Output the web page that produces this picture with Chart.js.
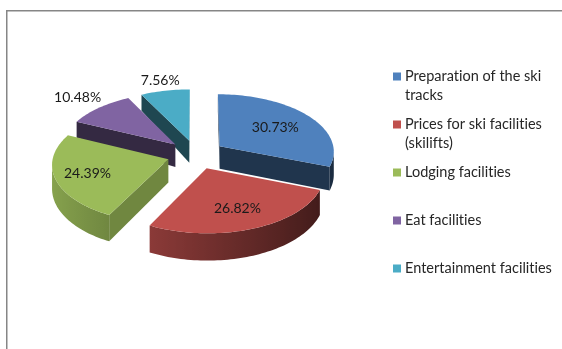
<!DOCTYPE html>
<html>
<head>
<meta charset="utf-8">
<style>
  html, body { margin: 0; padding: 0; background: #fff; }
  canvas { display: block; }
</style>
<script src="https://cdn.jsdelivr.net/npm/chart.js@4/dist/chart.umd.min.js"></script>
</head>
<body>
<canvas id="chart" width="562" height="349"></canvas>
<script>
// Survey results: share of each satisfaction factor
const categories = [
  'Preparation of the ski tracks',
  'Prices for ski facilities (skilifts)',
  'Lodging facilities',
  'Eat facilities',
  'Entertainment facilities'
];
const legendLines = [
  ['Preparation of the ski', 'tracks'],
  ['Prices for ski facilities', '(skilifts)'],
  ['Lodging facilities'],
  ['Eat facilities'],
  ['Entertainment facilities']
];
const shares = [30.73, 26.82, 24.39, 10.48, 7.56];
const sliceColors = ['#4f81bd', '#c0504d', '#9bbb59', '#8064a2', '#4bacc6'];
const cutWallShade = [0.41, 0.6, 0.72, 0.41, 0.41];
const labelReach = [0.62, 0.68, 0.72, 1.3, 1.22];
const paintOrder = [4, 3, 0, 2, 1];

const FONT = '"Lato", "Open Sans", sans-serif';
const TILT = 0.5;        // vertical squash of the pie plane
const PERSPECTIVE = 0.08;

function shadeColor(hex, k) {
  const n = parseInt(hex.slice(1), 16);
  const c = [(n >> 16) & 255, (n >> 8) & 255, n & 255].map(v => Math.round(v * k));
  return `rgb(${c[0]},${c[1]},${c[2]})`;
}

// Perspective projection of a point on the pie plane
function project(cx, cy, R, X, V) {
  const g = 1 / (1 - PERSPECTIVE * V / R);
  return { x: cx + X * g, y: cy + TILT * V * g, V };
}

function wallDepth(V) {
  if (V >= -30) return 23 + 0.03 * V;
  return Math.max(16, 23 + (V + 30) * 0.2);
}

// Wall hanging below a run of top-edge points
function wall(ctx, pts, fill) {
  ctx.beginPath();
  pts.forEach((p, i) => (i ? ctx.lineTo(p.x, p.y) : ctx.moveTo(p.x, p.y)));
  for (let i = pts.length - 1; i >= 0; i--) ctx.lineTo(pts[i].x, pts[i].y + wallDepth(pts[i].V));
  ctx.closePath();
  ctx.fillStyle = fill;
  ctx.fill();
}

const setTextStyle = (ctx, size) => {
  ctx.font = size + 'px ' + FONT;
  ctx.letterSpacing = '0.001px';   // keeps "ti" and "fi" as separate glyphs
};

// Extruded, tilted pie built from the geometry of the library's arc elements
const tiltedPie = {
  id: 'tiltedPie',
  beforeDatasetsDraw(chart) {
    const ctx = chart.ctx;
    const arcs = chart.getDatasetMeta(0).data;
    ctx.save();
    paintOrder.forEach(i => {
      const arc = arcs[i];
      const { x: cx, y: cy, startAngle, endAngle, outerRadius: R } = arc.getProps(['x', 'y', 'startAngle', 'endAngle', 'outerRadius'], true);
      const mid = (startAngle + endAngle) / 2;
      const off = arc.options.offset;
      const ax = off * Math.cos(mid), av = off * Math.sin(mid);
      const apex = project(cx, cy, R, ax, av);
      const steps = Math.max(8, Math.round((endAngle - startAngle) * 180 / Math.PI / 1.5));
      const rim = [];
      for (let s = 0; s <= steps; s++) {
        const t = startAngle + (endAngle - startAngle) * s / steps;
        rim.push(Object.assign(project(cx, cy, R, ax + R * Math.cos(t), av + R * Math.sin(t)), { t }));
      }
      const color = sliceColors[i];
      const cutFill = shadeColor(color, cutWallShade[i]);
      // only walls whose top edge runs right-to-left face the viewer
      if (rim[0].x < apex.x) wall(ctx, [apex, rim[0]], cutFill);
      if (apex.x < rim[steps].x) wall(ctx, [rim[steps], apex], cutFill);
      const visible = rim.filter((p, s) =>
        (s < steps && rim[s + 1].x < p.x) || (s > 0 && p.x < rim[s - 1].x));
      if (visible.length > 1) {
        const x0 = visible[visible.length - 1].x, x1 = visible[0].x;
        const grad = ctx.createLinearGradient(x0, 0, x1, 0);
        visible.forEach(p => {
          const stop = (p.x - x0) / (x1 - x0);
          grad.addColorStop(Math.min(1, Math.max(0, stop)), shadeColor(color, 0.6 - 0.27 * Math.cos(p.t)));
        });
        wall(ctx, visible, grad);
      }
      ctx.beginPath();
      ctx.moveTo(apex.x, apex.y);
      rim.forEach(p => ctx.lineTo(p.x, p.y));
      ctx.closePath();
      ctx.fillStyle = color;
      ctx.fill();
    });
    // percentage labels
    setTextStyle(ctx, 14);
    ctx.fillStyle = '#1a1a1a';
    ctx.textAlign = 'center';
    ctx.textBaseline = 'middle';
    arcs.forEach((arc, i) => {
      const { x: cx, y: cy, startAngle, endAngle, outerRadius: R } = arc.getProps(['x', 'y', 'startAngle', 'endAngle', 'outerRadius'], true);
      const mid = (startAngle + endAngle) / 2;
      const r = arc.options.offset + R * labelReach[i];
      const p = project(cx, cy, R, r * Math.cos(mid), r * Math.sin(mid));
      ctx.fillText(shares[i].toFixed(2) + '%', p.x, p.y);
    });
    ctx.restore();
    return false;
  }
};

// Open frame along the top and left, plus the legend column
const frameAndLegend = {
  id: 'frameAndLegend',
  beforeDraw(chart) {
    const ctx = chart.ctx;
    ctx.save();
    ctx.fillStyle = '#868686';
    ctx.fillRect(6, 10, 556, 1.5);
    ctx.fillRect(6, 10, 1.5, 339);
    ctx.restore();
  },
  afterDraw(chart) {
    const ctx = chart.ctx;
    ctx.save();
    setTextStyle(ctx, 14.5);
    ctx.textAlign = 'left';
    ctx.textBaseline = 'middle';
    legendLines.forEach((lines, i) => {
      const y = 76.5 + i * 48;
      ctx.fillStyle = sliceColors[i];
      ctx.fillRect(393, y - 4, 8, 8);
      ctx.fillStyle = '#262626';
      lines.forEach((line, j) => ctx.fillText(line, 405, y + j * 19));
    });
    ctx.restore();
  }
};

new Chart(document.getElementById('chart'), {
  type: 'pie',
  data: {
    labels: categories,
    datasets: [{
      data: shares,
      backgroundColor: sliceColors,
      offset: 29,
      borderWidth: 0,
      radius: 115
    }]
  },
  options: {
    responsive: false,
    animation: false,
    layout: { padding: { left: 0, top: 0, right: 170, bottom: 40 } },
    plugins: { legend: { display: false }, tooltip: { enabled: false } }
  },
  plugins: [frameAndLegend, tiltedPie]
});
</script>
</body>
</html>
